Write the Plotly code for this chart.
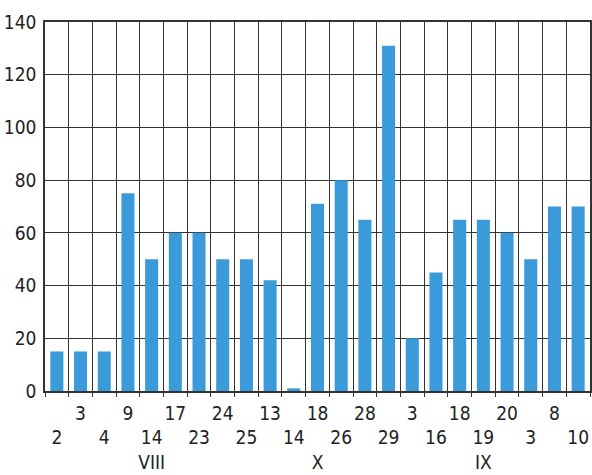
import plotly.graph_objects as go

values = [15, 15, 15, 75, 50, 60, 60, 50, 50, 42, 1, 71, 80, 65, 131, 20, 45, 65, 65, 60, 50, 70, 70]
day_labels = ["2", "3", "4", "9", "14", "17", "23", "24", "25", "13", "14", "18",
              "26", "28", "29", "3", "16", "18", "19", "20", "3", "8", "10"]
month_labels = {4: "VIII", 11: "X", 18: "IX"}
y_ticks = [0, 20, 40, 60, 80, 100, 120, 140]

x = list(range(len(values)))
ticktext = []
for i, d in enumerate(day_labels):
    t = d if i % 2 == 1 else "<br>" + d
    if i in month_labels:
        t = t + ("<br>" if i % 2 == 0 else "<br><br>") + month_labels[i]
    ticktext.append(t)

font_family = "Liberation Sans Narrow, DejaVu Sans Condensed, sans-serif"
grid = "#333333"

fig = go.Figure(go.Bar(x=x, y=values, marker=dict(color="#3b9ad9", line=dict(width=0)),
                       width=0.55))
fig.update_layout(
    width=592, height=475,
    margin=dict(l=45, r=2, t=22, b=84),
    plot_bgcolor="white", paper_bgcolor="white",
    showlegend=False,
    font=dict(family=font_family, size=20, color="#222222"),
)
fig.update_xaxes(
    range=[-0.5, len(values) - 0.5], automargin=False,
    tickmode="array", tickvals=x, ticktext=ticktext, tickangle=0,
    tickfont=dict(size=19),
    showgrid=False, ticks="", ticklabelstandoff=4,
    showline=True, linecolor=grid, linewidth=1.5, mirror=True,
    minor=dict(tickmode="linear", tick0=-0.5, dtick=1, showgrid=True,
               gridcolor=grid, gridwidth=1, ticks="outside", ticklen=4, tickcolor=grid),
    zeroline=False,
)
fig.update_yaxes(
    range=[0, 140], tickmode="array", tickvals=y_ticks, automargin=False,
    tickfont=dict(size=19),
    showgrid=True, gridcolor=grid, gridwidth=1,
    showline=True, linecolor=grid, linewidth=1.5, mirror=True,
    ticks="", ticklabelstandoff=3, zeroline=False,
)
fig.write_html(
    "out.html",
    config={"displayModeBar": False},
    post_script="document.body.style.margin='0';document.body.style.overflow='hidden';",
)
